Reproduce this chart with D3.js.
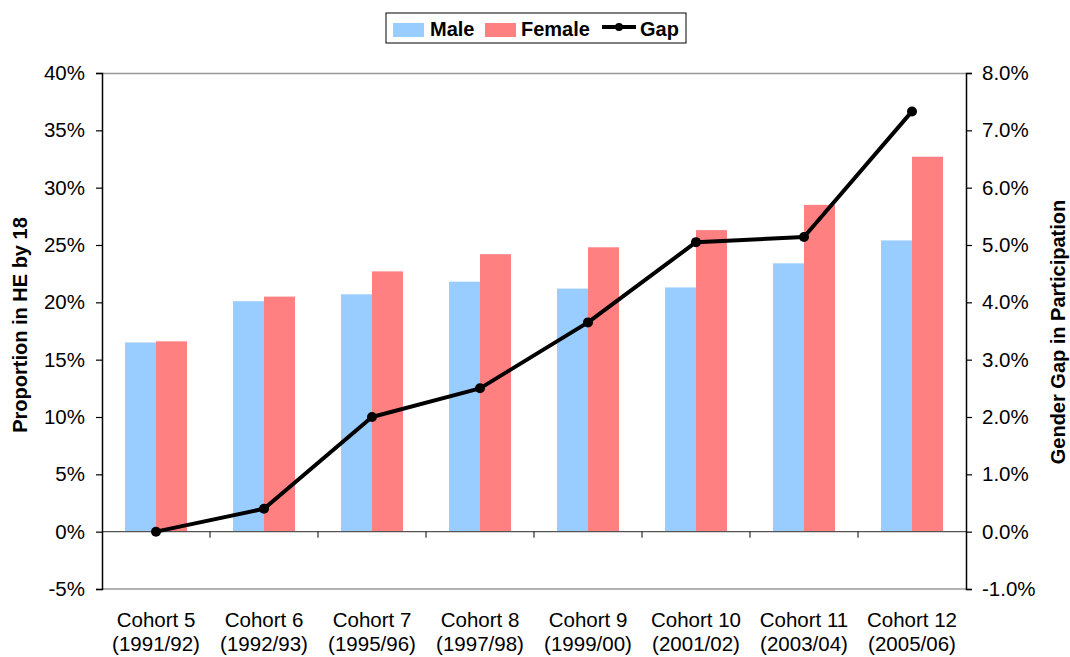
<!DOCTYPE html>
<html>
<head>
<meta charset="utf-8">
<script src="https://cdn.jsdelivr.net/npm/d3@7"></script>
<style>
  body { margin: 0; background: #fff; }
  text { font-family: "Liberation Sans", Arial, sans-serif; }
</style>
</head>
<body>
<script>
// chart data
var cohorts = ["Cohort 5", "Cohort 6", "Cohort 7", "Cohort 8", "Cohort 9", "Cohort 10", "Cohort 11", "Cohort 12"];
var years = ["(1991/92)", "(1992/93)", "(1995/96)", "(1997/98)", "(1999/00)", "(2001/02)", "(2003/04)", "(2005/06)"];
var male = [16.5, 20.1, 20.7, 21.8, 21.2, 21.3, 23.4, 25.4];
var female = [16.6, 20.5, 22.7, 24.2, 24.8, 26.3, 28.5, 32.7];
var gap = [0.0, 0.4, 2.0, 2.5, 3.65, 5.05, 5.14, 7.33];
var leftTicks = [-5, 0, 5, 10, 15, 20, 25, 30, 35, 40];
var rightTicks = [-1, 0, 1, 2, 3, 4, 5, 6, 7, 8];

var svgWidth = 1070, svgHeight = 657;
var margin = { top: 73, right: 104, bottom: 68, left: 102 };
var chartWidth = svgWidth - margin.left - margin.right;
var chartHeight = svgHeight - margin.top - margin.bottom;

var svg = d3.select("body").append("svg")
  .attr("width", svgWidth)
  .attr("height", svgHeight);

var g = svg.append("g")
  .attr("transform", "translate(" + margin.left + "," + margin.top + ")");

var x = d3.scaleBand().domain(cohorts).range([0, chartWidth]).paddingInner(0.426).paddingOuter(0.213);
var xc = d3.scaleBand().domain(cohorts).range([0, chartWidth]);
var y = d3.scaleLinear().domain([-5, 40]).range([chartHeight, 0]);
var y2 = d3.scaleLinear().domain([-1, 8]).range([chartHeight, 0]);
var bw = x.bandwidth() / 2;

// frame top/bottom
g.append("line").attr("x1", 0).attr("x2", chartWidth).attr("y1", 0.5).attr("y2", 0.5)
  .attr("stroke", "#999").attr("stroke-width", 1.5);
g.append("line").attr("x1", 0).attr("x2", chartWidth).attr("y1", chartHeight).attr("y2", chartHeight)
  .attr("stroke", "#999").attr("stroke-width", 1.5);

// bars
g.selectAll(".male").data(male).enter().append("rect")
  .attr("x", function(d, i) { return x(cohorts[i]); })
  .attr("y", function(d) { return y(d); })
  .attr("width", bw)
  .attr("height", function(d) { return y(0) - y(d); })
  .attr("fill", "#99CCFF");

g.selectAll(".female").data(female).enter().append("rect")
  .attr("x", function(d, i) { return x(cohorts[i]) + bw; })
  .attr("y", function(d) { return y(d); })
  .attr("width", bw)
  .attr("height", function(d) { return y(0) - y(d); })
  .attr("fill", "#FF8080");

// zero line with category ticks
g.append("line").attr("x1", 0).attr("x2", chartWidth).attr("y1", y(0)).attr("y2", y(0))
  .attr("stroke", "#555").attr("stroke-width", 1.2);
cohorts.slice(1).forEach(function(c) {
  g.append("line").attr("x1", xc(c)).attr("x2", xc(c)).attr("y1", y(0)).attr("y2", y(0) + 6)
    .attr("stroke", "#000").attr("stroke-width", 1);
});

// axes
var yAxis = d3.axisLeft(y).tickValues(leftTicks).tickSize(6).tickPadding(11)
  .tickFormat(function(d) { return d + "%"; });
var yAxisR = d3.axisRight(y2).tickValues(rightTicks).tickSize(6).tickPadding(10)
  .tickFormat(function(d) { return d.toFixed(1) + "%"; });

var ga = g.append("g").call(yAxis);
var gb = g.append("g").attr("transform", "translate(" + chartWidth + ",0)").call(yAxisR);
[ga, gb].forEach(function(a) {
  a.select(".domain").attr("stroke", "#000").attr("stroke-width", 1.5);
  a.selectAll(".tick line").attr("stroke", "#000").attr("stroke-width", 1.2);
  a.selectAll(".tick text").attr("font-size", 20.5).attr("fill", "#000")
    .style("font-family", "'Liberation Sans', Arial, sans-serif");
});

// x labels
cohorts.forEach(function(c, i) {
  var cx = xc(c) + xc.bandwidth() / 2;
  var t = g.append("text").attr("x", cx).attr("y", chartHeight + 38)
    .attr("text-anchor", "middle").attr("font-size", 20.5).attr("fill", "#000");
  t.append("tspan").attr("x", cx).text(c);
  t.append("tspan").attr("x", cx).attr("dy", 24).text(years[i]);
});

// gap line
var line = d3.line()
  .x(function(d, i) { return xc(cohorts[i]) + xc.bandwidth() / 2; })
  .y(function(d) { return y2(d); });

g.append("path").datum(gap)
  .attr("fill", "none").attr("stroke", "#000").attr("stroke-width", 4)
  .attr("stroke-linejoin", "round").attr("d", line);

g.selectAll(".dot").data(gap).enter().append("circle")
  .attr("cx", function(d, i) { return xc(cohorts[i]) + xc.bandwidth() / 2; })
  .attr("cy", function(d) { return y2(d); })
  .attr("r", 5).attr("fill", "#000");

// axis titles
svg.append("text").attr("transform", "translate(27,325) rotate(-90)")
  .attr("text-anchor", "middle").attr("font-size", 20).attr("font-weight", "bold").text("Proportion in HE by 18");
svg.append("text").attr("transform", "translate(1065,332) rotate(-90)")
  .attr("text-anchor", "middle").attr("font-size", 20).attr("font-weight", "bold").text("Gender Gap in Participation");

// legend
var lg = svg.append("g").attr("transform", "translate(386,13)");
lg.append("rect").attr("width", 300).attr("height", 30).attr("fill", "#fff")
  .attr("stroke", "#000").attr("stroke-width", 1);
lg.append("rect").attr("x", 7).attr("y", 10).attr("width", 31).attr("height", 14).attr("fill", "#99CCFF");
lg.append("text").attr("x", 44).attr("y", 23).attr("font-size", 20).attr("font-weight", "bold").text("Male");
lg.append("rect").attr("x", 99).attr("y", 10).attr("width", 31).attr("height", 14).attr("fill", "#FF8080");
lg.append("text").attr("x", 135).attr("y", 23).attr("font-size", 20).attr("font-weight", "bold").text("Female");
lg.append("line").attr("x1", 216).attr("x2", 250).attr("y1", 14).attr("y2", 14)
  .attr("stroke", "#000").attr("stroke-width", 4);
lg.append("circle").attr("cx", 233).attr("cy", 14).attr("r", 4).attr("fill", "#000");
lg.append("text").attr("x", 254).attr("y", 23).attr("font-size", 20).attr("font-weight", "bold").text("Gap");
</script>
</body>
</html>
